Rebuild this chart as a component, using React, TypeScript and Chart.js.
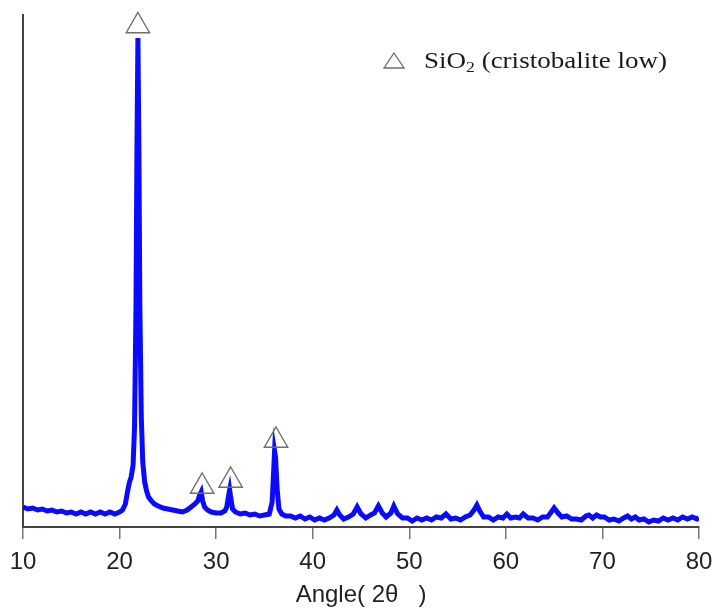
import React, { useEffect, useRef } from "react";
import { Chart, registerables } from "chart.js";

Chart.register(...registerables);

// XRD pattern: diffraction angle (2θ, degrees) and intensity (arbitrary units)
const angles: number[] = [
  10.0, 10.5, 11.0, 11.5, 12.0, 12.5, 13.0, 13.5, 14.0, 14.5, 15.0, 15.5, 16.0, 16.5, 17.0, 17.5,
  18.0, 18.5, 19.0, 19.5, 20.0, 20.3, 20.6, 20.8, 21.0, 21.2, 21.4, 21.55, 21.7, 21.8, 21.9, 22.0,
  22.1, 22.25, 22.4, 22.6, 22.8, 23.0, 23.3, 23.6, 24.0, 24.5, 25.0, 25.5, 26.0, 26.5, 27.0, 27.4,
  27.8, 28.1, 28.3, 28.45, 28.6, 28.8, 29.1, 29.5, 30.0, 30.5, 30.9, 31.1, 31.3, 31.4, 31.5, 31.7,
  32.0, 32.5, 33.0, 33.5, 34.0, 34.5, 35.0, 35.5, 35.8, 35.95, 36.05, 36.15, 36.3, 36.5, 36.8, 37.2,
  37.7, 38.2, 38.7, 39.2, 39.7, 40.2, 40.7, 41.2, 41.7, 42.2, 42.5, 42.8, 43.2, 43.7, 44.2, 44.6,
  45.0, 45.5, 46.0, 46.4, 46.8, 47.2, 47.6, 48.1, 48.4, 48.8, 49.3, 49.8, 50.3, 50.8, 51.3, 51.8,
  52.3, 52.8, 53.3, 53.8, 54.3, 54.8, 55.3, 55.8, 56.3, 56.7, 57.0, 57.3, 57.7, 58.2, 58.7, 59.2,
  59.7, 60.1, 60.5, 61.0, 61.4, 61.8, 62.3, 62.8, 63.3, 63.8, 64.3, 64.7, 65.0, 65.4, 65.8, 66.3,
  66.8, 67.3, 67.8, 68.3, 68.6, 69.0, 69.4, 69.8, 70.2, 70.7, 71.2, 71.7, 72.2, 72.6, 73.0, 73.4,
  73.8, 74.3, 74.8, 75.3, 75.8, 76.3, 76.8, 77.3, 77.8, 78.3, 78.8, 79.3, 79.8, 80.0,
];

const intensity: number[] = [
  20, 18, 19, 17, 18, 16, 17, 15, 16, 14, 15, 13, 15, 13, 15, 13,
  15, 13, 15, 13, 15, 17, 23, 34, 44, 50, 62, 100, 220, 380, 489, 380,
  220, 110, 65, 45, 36, 30, 26, 23, 21, 19, 18, 17, 16, 15, 17, 20,
  23, 26, 32, 35, 26, 20, 17, 15, 14, 14, 16, 20, 32, 37, 30, 18,
  15, 13, 14, 12, 13, 11, 12, 13, 25, 55, 76, 70, 40, 18, 13, 11,
  11, 9, 11, 8, 10, 7, 9, 7, 9, 12, 17, 12, 8, 10, 13, 20,
  13, 9, 12, 14, 21, 14, 10, 14, 21, 13, 9, 9, 6, 9, 7, 9,
  7, 10, 9, 13, 8, 9, 7, 10, 12, 17, 22, 16, 10, 10, 7, 10,
  9, 13, 9, 10, 9, 13, 9, 9, 7, 10, 10, 15, 19, 14, 10, 11,
  8, 8, 7, 11, 12, 9, 12, 10, 10, 7, 8, 6, 9, 11, 8, 10,
  7, 8, 5, 7, 6, 9, 7, 9, 7, 10, 8, 10, 8, 9,
];

// Peaks identified as SiO2 (cristobalite low): marker positions
const markerAngles: number[] = [21.9, 28.55, 31.5, 36.2];
const markerLevels: number[] = [501, 40.5, 46.5, 86.5];

const xTicks: number[] = [10, 20, 30, 40, 50, 60, 70, 80];
const xTitle = "Angle( 2θ   )";
const legendLabel = { main: "SiO", sub: "2", rest: " (cristobalite low)" };

const legendPlugin = {
  id: "phaseLegend",
  afterDraw(chart: any) {
    const ctx = chart.ctx as CanvasRenderingContext2D;
    ctx.save();
    // triangle symbol
    ctx.strokeStyle = "#6e6e6e";
    ctx.lineWidth = 1.3;
    ctx.beginPath();
    ctx.moveTo(394, 53);
    ctx.lineTo(404, 68);
    ctx.lineTo(384, 68);
    ctx.closePath();
    ctx.stroke();
    // text
    const big = "23px 'Liberation Serif', 'Times New Roman', serif";
    const small = "15px 'Liberation Serif', 'Times New Roman', serif";
    ctx.fillStyle = "#1a1a1a";
    ctx.textBaseline = "alphabetic";
    ctx.textAlign = "left";
    ctx.font = big;
    const w1 = ctx.measureText(legendLabel.main).width;
    const w3 = ctx.measureText(legendLabel.rest).width;
    ctx.font = small;
    const w2 = ctx.measureText(legendLabel.sub).width;
    const total = w1 + w2 + w3;
    const target = 243;
    const sx = target / total;
    ctx.translate(424, 68);
    ctx.scale(sx, 1);
    ctx.font = big;
    ctx.fillText(legendLabel.main, 0, 0);
    ctx.font = small;
    ctx.fillText(legendLabel.sub, w1, 4);
    ctx.font = big;
    ctx.fillText(legendLabel.rest, w1 + w2, 0);
    ctx.restore();
  },
};

export default function App() {
  const canvasRef = useRef<HTMLCanvasElement | null>(null);

  useEffect(() => {
    if (!canvasRef.current) return;
    const chart = new Chart(canvasRef.current, {
      type: "line",
      data: {
        datasets: [
          {
            label: "pattern",
            data: angles.map((a, i) => ({ x: a, y: intensity[i] })),
            borderColor: "#0a0aff",
            borderWidth: 5,
            pointRadius: 0,
            tension: 0,
            fill: false,
            order: 2,
          },
          {
            label: "markers",
            data: markerAngles.map((a, i) => ({ x: a, y: markerLevels[i] })),
            showLine: false,
            pointStyle: "triangle",
            pointRadius: 13.5,
            pointBorderColor: "#6e6e6e",
            pointBackgroundColor: "rgba(255,255,255,0)",
            pointBorderWidth: 1.4,
            clip: false as any,
            order: 1,
          },
        ],
      },
      options: {
        animation: false,
        responsive: true,
        maintainAspectRatio: false,
        layout: { padding: { left: 23, top: 15, right: 16, bottom: 0 } },
        plugins: {
          legend: { display: false },
          tooltip: { enabled: false },
        },
        scales: {
          x: {
            type: "linear",
            min: 10,
            max: 80,
            afterBuildTicks: (s: any) => {
              s.ticks = xTicks.map((v) => ({ value: v }));
            },
            afterFit: (s: any) => {
              s.height = 84;
              s.paddingLeft = 0;
              s.paddingRight = 0;
            },
            ticks: {
              stepSize: 10,
              padding: 9,
              color: "#222",
              font: { family: "'Liberation Sans', Arial, sans-serif", size: 24 },
              maxRotation: 0,
              autoSkip: false,
            },
            grid: {
              display: true,
              drawOnChartArea: false,
              drawTicks: true,
              tickLength: 12,
              color: "#777",
              lineWidth: 1.5,
            },
            border: { display: true, color: "#444", width: 2 },
            title: {
              display: true,
              text: xTitle,
              color: "#222",
              font: { family: "'Liberation Sans', Arial, sans-serif", size: 24 },
              padding: { top: 0, bottom: 1 },
            },
          },
          y: {
            type: "linear",
            min: 0,
            max: 512,
            afterFit: (s: any) => {
              s.width = 0;
            },
            ticks: { display: false },
            grid: { display: false, drawTicks: false },
            border: { display: true, color: "#444", width: 2 },
          },
        },
      },
      plugins: [legendPlugin],
    });
    return () => chart.destroy();
  }, []);

  return (
    <div
      style={{
        position: "fixed",
        left: 0,
        top: 0,
        width: "715px",
        height: "611px",
        background: "#fff",
      }}
    >
      <canvas ref={canvasRef} />
    </div>
  );
}
